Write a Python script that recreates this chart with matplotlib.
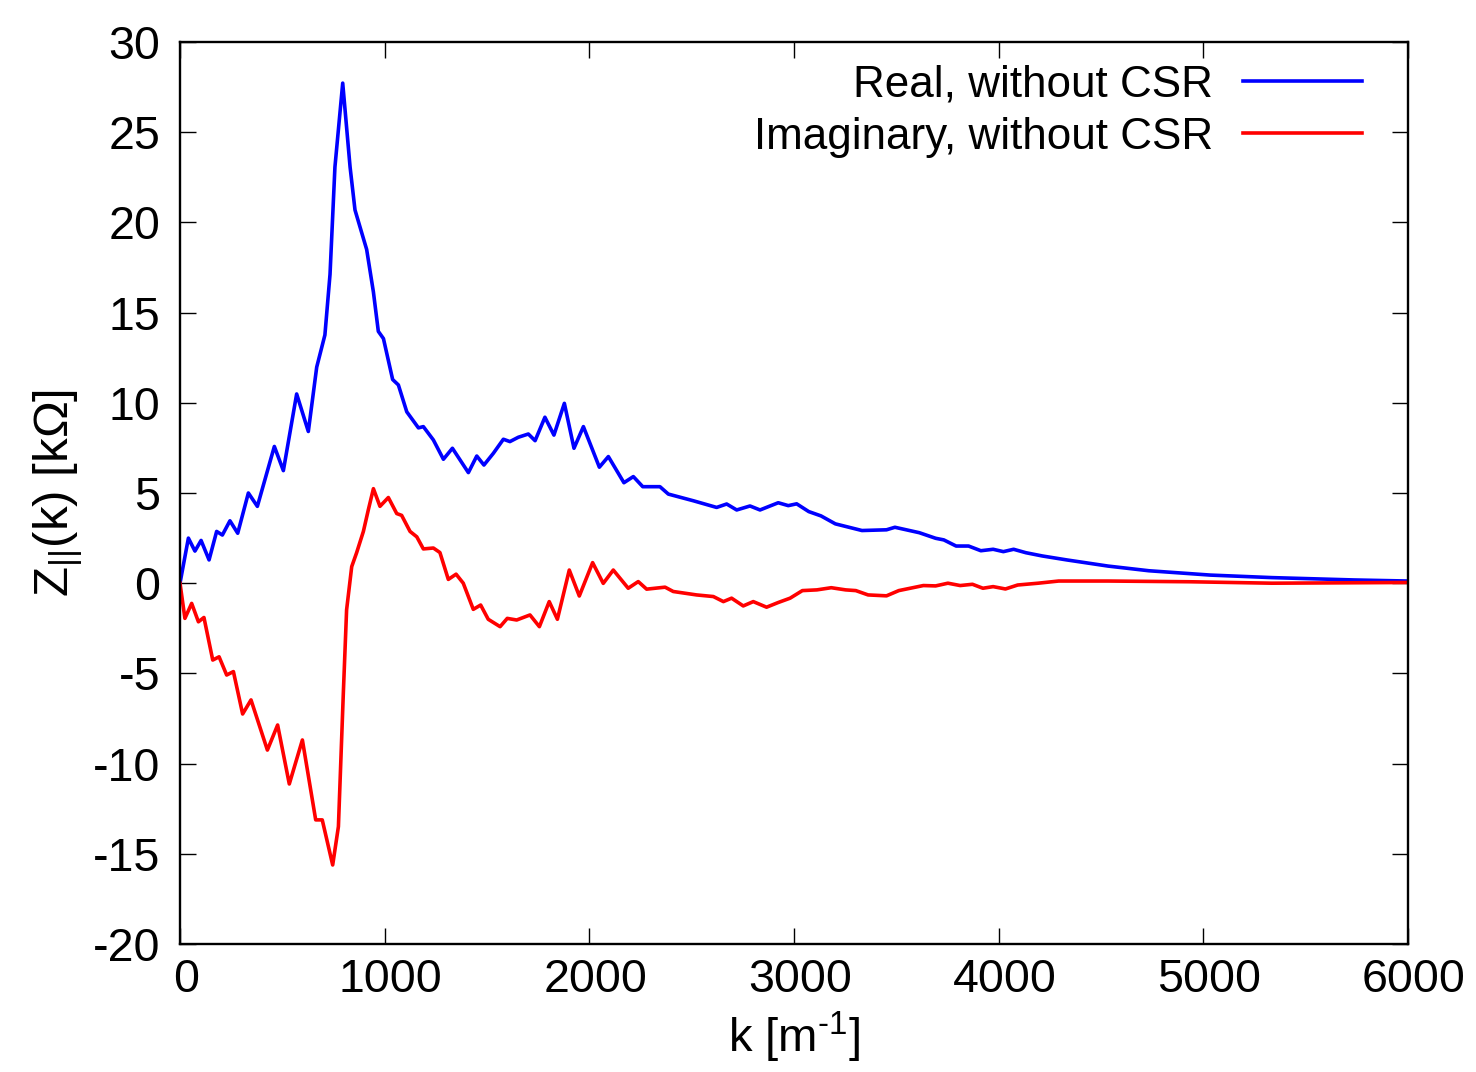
import matplotlib
matplotlib.use("Agg")
import matplotlib.pyplot as plt
import matplotlib.transforms as mtransforms

plt.rcParams['font.family'] = ['Liberation Sans', 'DejaVu Sans']
plt.rcParams['mathtext.fontset'] = 'custom'
plt.rcParams['mathtext.rm'] = 'Liberation Sans'
plt.rcParams['mathtext.it'] = 'Liberation Sans'
plt.rcParams['mathtext.default'] = 'regular'

# Longitudinal impedance, real part
k_real = [0, 41, 73, 103, 142, 179, 207, 244, 282, 334, 378, 461, 505, 570,
          627, 668, 708, 733, 757, 795, 831, 855, 912, 945, 969, 994, 1039,
          1067, 1108, 1165, 1189, 1238, 1287, 1331, 1409, 1450, 1485, 1531,
          1580, 1612, 1653, 1702, 1735, 1783, 1827, 1878, 1925, 1971, 2049,
          2093, 2169, 2215, 2261, 2345, 2386, 2508, 2622, 2671, 2720, 2785,
          2834, 2923, 2972, 3013, 3072, 3132, 3202, 3332, 3452, 3493, 3612,
          3692, 3732, 3792, 3853, 3913, 3973, 4023, 4073, 4133, 4213, 4333,
          4534, 4734, 5034, 5335, 5735, 6000]
z_real = [0.0, 2.5, 1.78, 2.37, 1.29, 2.87, 2.67, 3.46, 2.77, 5.0, 4.26, 7.58,
          6.24, 10.49, 8.41, 11.98, 13.76, 17.12, 23.07, 27.72, 23.07, 20.69,
          18.5, 16.14, 13.96, 13.56, 11.29, 10.99, 9.5, 8.61, 8.68, 7.94,
          6.87, 7.48, 6.13, 7.05, 6.55, 7.2, 7.98, 7.85, 8.09, 8.27, 7.9, 9.2,
          8.21, 9.97, 7.48, 8.68, 6.43, 7.02, 5.57, 5.91, 5.35, 5.35, 4.94,
          4.57, 4.2, 4.39, 4.06, 4.28, 4.06, 4.46, 4.3, 4.4, 3.97, 3.73, 3.29,
          2.92, 2.96, 3.1, 2.8, 2.49, 2.4, 2.06, 2.06, 1.8, 1.88, 1.75, 1.88,
          1.69, 1.51, 1.29, 0.95, 0.69, 0.45, 0.31, 0.18, 0.12]

# Longitudinal impedance, imaginary part
k_imag = [0, 24, 57, 90, 117, 160, 191, 228, 261, 306, 347, 427, 477, 534,
          598, 663, 695, 746, 774, 798, 814, 839, 863, 896, 920, 945, 977,
          1018, 1059, 1083, 1124, 1157, 1189, 1238, 1270, 1311, 1349, 1384,
          1433, 1469, 1506, 1564, 1599, 1645, 1710, 1756, 1804, 1844, 1902,
          1951, 2016, 2068, 2117, 2190, 2239, 2280, 2370, 2410, 2524, 2606,
          2655, 2695, 2752, 2801, 2866, 2923, 2981, 3041, 3112, 3182, 3252,
          3302, 3362, 3452, 3512, 3632, 3692, 3752, 3812, 3872, 3923, 3973,
          4033, 4093, 4193, 4293, 4534, 4934, 5335, 6000]
z_imag = [0.0, -1.95, -1.12, -2.14, -1.9, -4.26, -4.08, -5.09, -4.9, -7.25,
          -6.47, -9.25, -7.86, -11.13, -8.69, -13.12, -13.12, -15.62, -13.49,
          -6.1, -1.48, 0.92, 1.69, 2.87, 4.06, 5.24, 4.26, 4.75, 3.86, 3.76,
          2.87, 2.57, 1.9, 1.95, 1.7, 0.21, 0.5, 0.0, -1.45, -1.21, -2.0,
          -2.41, -1.95, -2.04, -1.76, -2.41, -1.02, -2.0, 0.73, -0.71, 1.14,
          -0.01, 0.73, -0.28, 0.09, -0.33, -0.22, -0.46, -0.65, -0.74, -1.02,
          -0.83, -1.26, -1.02, -1.33, -1.07, -0.83, -0.41, -0.37, -0.25, -0.37,
          -0.41, -0.65, -0.70, -0.41, -0.13, -0.15, 0.0, -0.13, -0.06, -0.28,
          -0.19, -0.32, -0.1, 0.0, 0.12, 0.12, 0.08, 0.0, 0.04]

x_ticks = [0, 1000, 2000, 3000, 4000, 5000, 6000]
y_ticks = [-20, -15, -10, -5, 0, 5, 10, 15, 20, 25, 30]

fig = plt.figure(figsize=(14.76, 10.72), dpi=100)
ax = fig.add_axes([180 / 1476, 128 / 1072, 1228 / 1476, 902 / 1072])

ax.plot(k_real, z_real, color='#0000ff', lw=2.6, solid_joinstyle='round',
        label='Real, without CSR')
ax.plot(k_imag, z_imag, color='#ff0000', lw=2.6, solid_joinstyle='round',
        label='Imaginary, without CSR')

ax.set_xlim(0, 6000)
ax.set_ylim(-20, 30)
ax.set_xticks(x_ticks)
ax.set_yticks(y_ticks)
ax.set_xticklabels([str(v) for v in x_ticks])
ax.set_yticklabels([str(v) for v in y_ticks])

ax.tick_params(direction='in', length=11.5, width=1.0, top=True, right=True,
               labelsize=33.5, color='black')
ax.tick_params(axis='y', pad=14)
ax.tick_params(axis='x', pad=10)
for lab in ax.get_xticklabels():
    lab.set_transform(lab.get_transform() +
                      mtransforms.ScaledTranslation(6 / 100, 0, fig.dpi_scale_trans))
for sp in ax.spines.values():
    sp.set_linewidth(1.7)

ax.set_xlabel('k [m$^{\u20101}$]', fontsize=34, labelpad=6)
ax.set_ylabel(r'Z$_{||}$(k) [kΩ]', fontsize=35.5, labelpad=6)

leg = ax.legend(loc='upper right', bbox_to_anchor=(1362 / 1476, 1 - 64 / 1072),
                bbox_transform=fig.transFigure, frameon=False, markerfirst=False,
                fontsize=31.7, handlelength=2.7, handletextpad=0.68,
                labelspacing=0.27, borderpad=0, borderaxespad=0)

fig.savefig('out.png', dpi=100)
